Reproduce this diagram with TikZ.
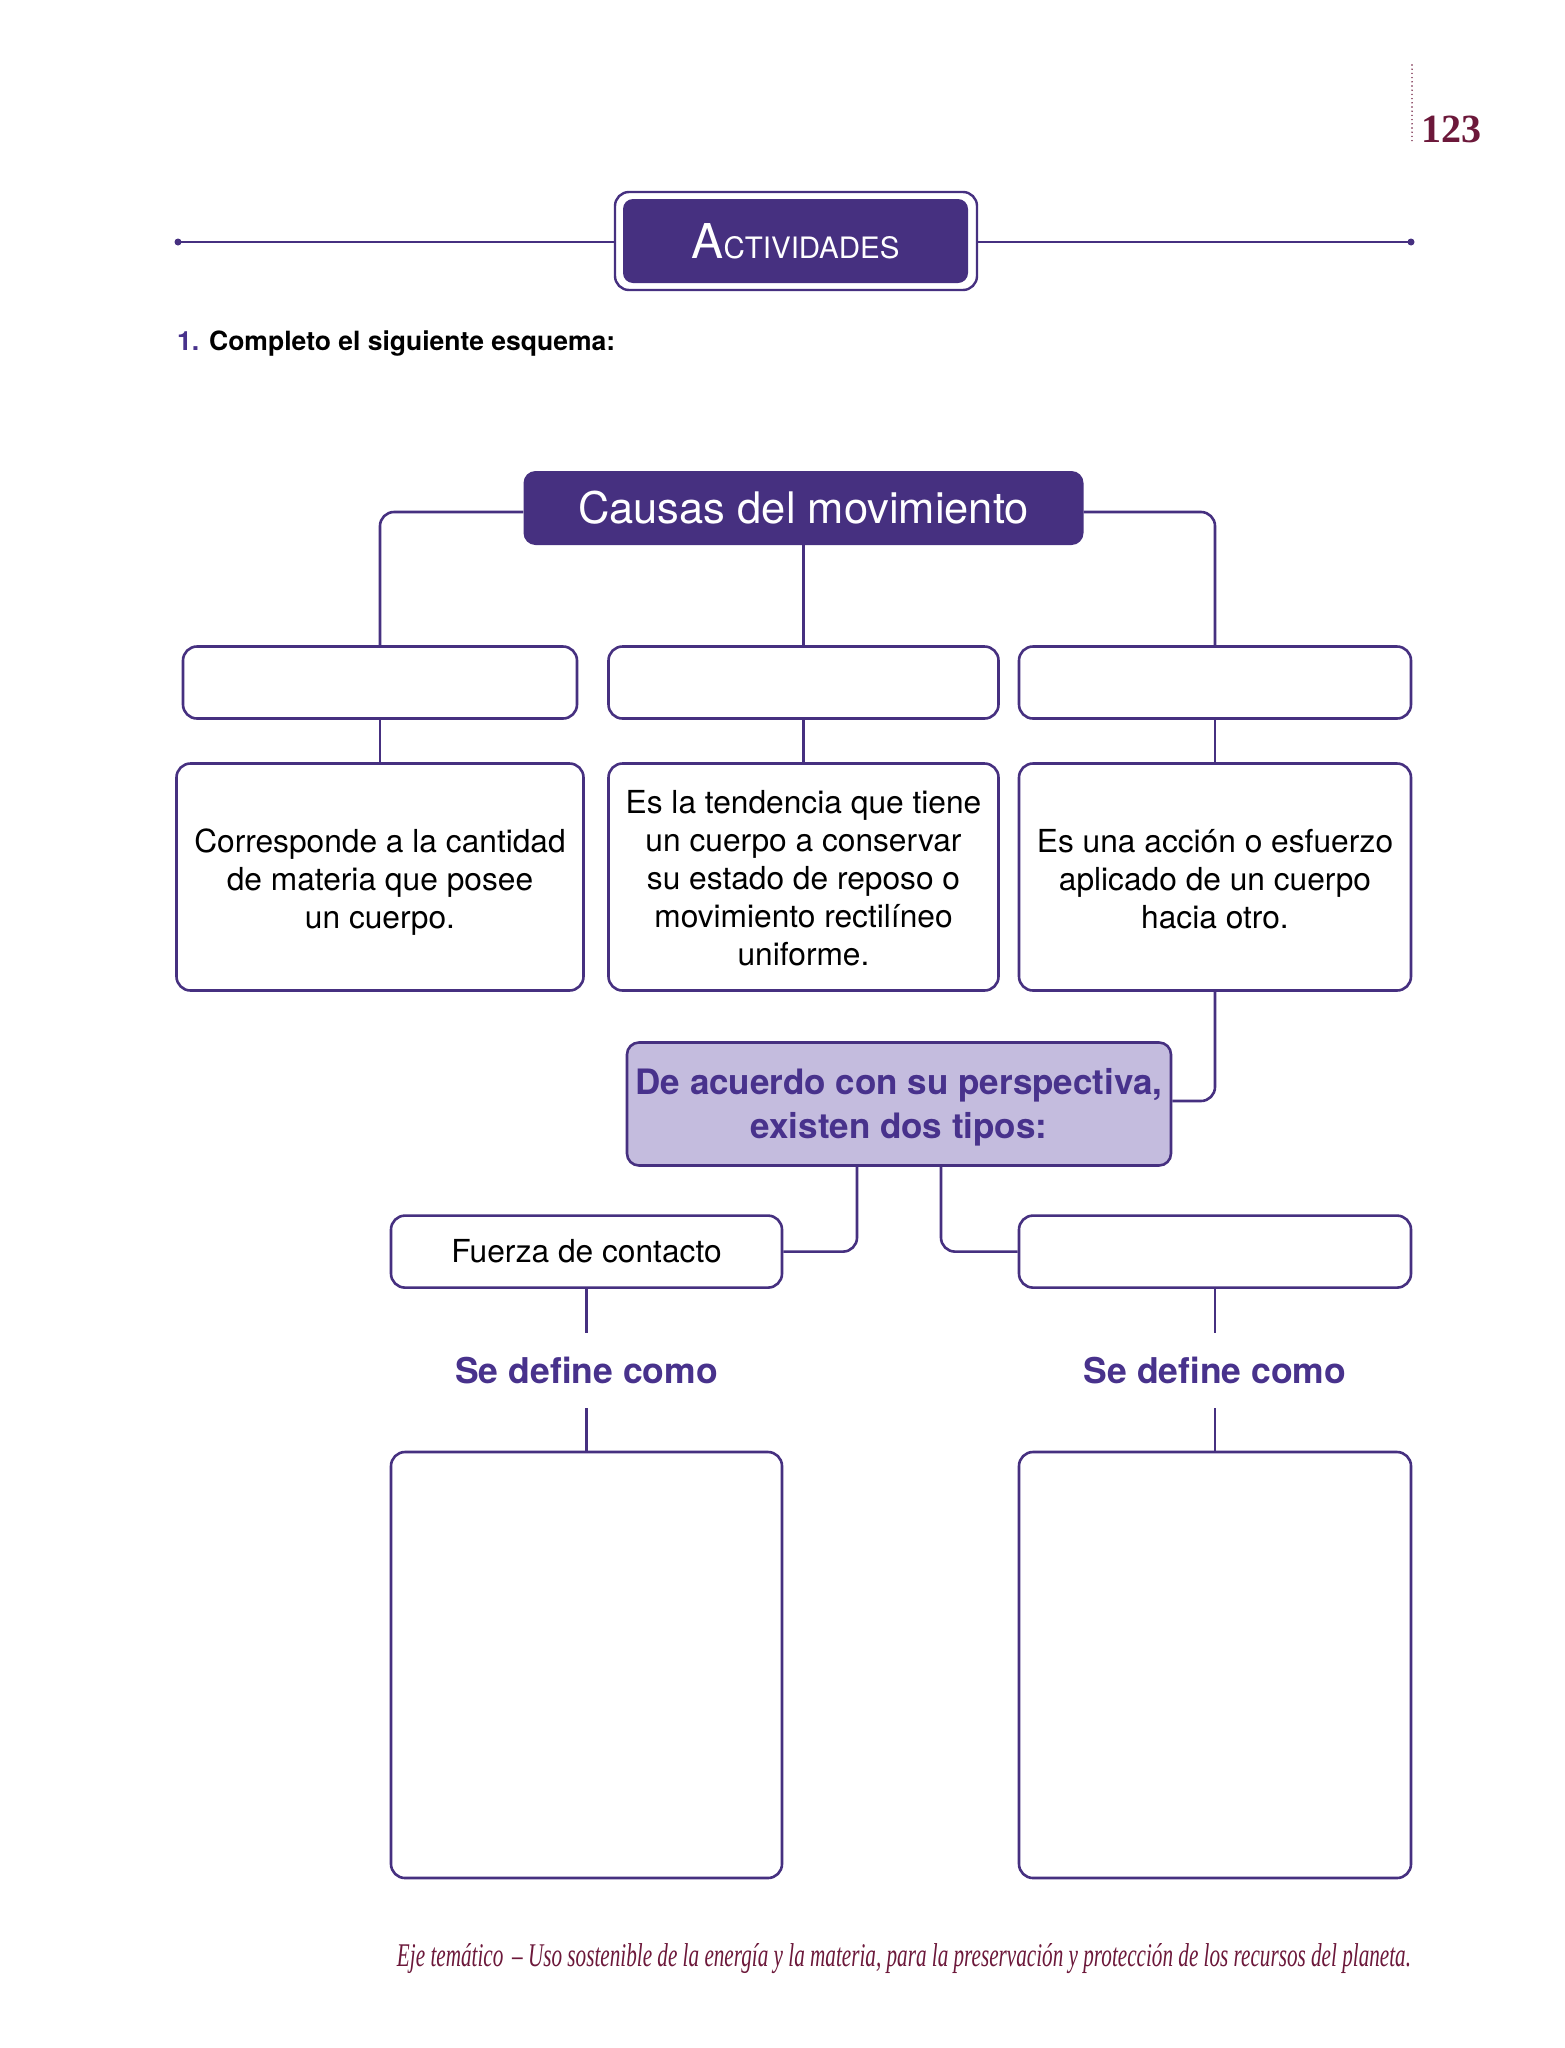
\documentclass[tikz,border=0pt]{standalone}
\usepackage{fontspec}
\usepackage{graphicx}
\setmainfont{TeX Gyre Heros}
\newfontfamily\numfont{Liberation Serif}
\usetikzlibrary{calc}
\definecolor{ipurple}{RGB}{70,48,128}
\definecolor{lpurple}{RGB}{196,188,222}
\definecolor{tpurple}{RGB}{72,50,140}
\definecolor{maroon}{RGB}{108,24,58}
\begin{document}
\begin{tikzpicture}[x=1pt,y=-1pt,
  box/.style={draw=ipurple, line width=2.6pt, rounded corners=14pt, fill=white, inner sep=0pt,
    align=center, text=black, font=\fontsize{31.7}{38}\selectfont},
  conn/.style={draw=ipurple, line width=2.6pt, rounded corners=14pt},
  sedef/.style={inner sep=0pt, minimum height=75pt, text=tpurple, font=\bfseries\fontsize{35.5}{40}\selectfont}
]
\useasboundingbox[fill=white] (0,0) rectangle (1564,2048);

% page number
\coordinate (pt) at (1412,65);
\coordinate (pb) at (1412,142);
\draw[maroon, line width=1.6pt, line cap=round, dash pattern=on 0pt off 4.2pt] (pt) -- (pb);
\node[anchor=base west, inner sep=0pt, text=maroon, font=\numfont\bfseries\fontsize{40}{40}\selectfont] (pnum) at (1421,142) {123};

% header line
\coordinate (hl) at (178,242);
\coordinate (hr) at (1411,242);
\draw[ipurple, line width=2pt] (hl) -- (hr);
\fill[ipurple] (hl) circle (3.5pt) (hr) circle (3.5pt);
\node[draw=ipurple, line width=2.4pt, fill=white, rounded corners=14pt, minimum width=362pt, minimum height=98pt, inner sep=0pt] (actout) at (796,241) {};
\node[fill=ipurple, rounded corners=10pt, minimum width=345pt, minimum height=84pt, inner sep=0pt, text=white] (act) at (795.5,241)
  {{\fontsize{48}{48}\selectfont A}{\fontsize{29.5}{30}\selectfont CTIVIDADES}};

% instruction
\node[anchor=base west, inner sep=0pt, font=\bfseries\fontsize{26.5}{30}\selectfont] (instr) at (177,350.5)
  {\textcolor{tpurple}{1.} Completo el siguiente esquema:};

% title
\node[fill=ipurple, rounded corners=12pt, minimum width=560pt, minimum height=74pt, inner sep=0pt, text=white,
  font=\fontsize{43.5}{46}\selectfont] (causas) at (803.5,508) {Causas del movimiento};

% row 1
\node[box, minimum width=394pt, minimum height=72pt] (r1a) at (380,682.5) {};
\node[box, minimum width=390pt, minimum height=72pt] (r1b) at (803.5,682.5) {};
\node[box, minimum width=392pt, minimum height=72pt] (r1c) at (1215,682.5) {};

% row 2
\node[box, minimum width=407pt, minimum height=227pt] (r2a) at (380,877)
  {\rule{0pt}{33pt}Corresponde a la cantidad\\de materia que posee\\un cuerpo.};
\node[box, minimum width=390pt, minimum height=227pt] (r2b) at (803.5,877)
  {\rule{0pt}{26pt}Es la tendencia que tiene\\un cuerpo a conservar\\su estado de reposo o\\movimiento rectilíneo\\uniforme.};
\node[box, minimum width=392pt, minimum height=227pt] (r2c) at (1215,877)
  {\rule{0pt}{27pt}Es una acción o esfuerzo\\aplicado de un cuerpo\\hacia otro.};

% perspective box
\node[box, fill=lpurple, rounded corners=12pt, minimum width=544pt, minimum height=123pt, text=tpurple,
  font=\bfseries\fontsize{35}{44}\selectfont] (acuerdo) at (899,1104)
  {\rule{0pt}{33.5pt}De acuerdo con su perspectiva,\\existen dos tipos:};

% types
\node[box, minimum width=391pt, minimum height=72pt] (fuerza) at (586.5,1251.6) {Fuerza de contacto};
\node[box, minimum width=392pt, minimum height=72pt] (tipo2) at (1215,1251.6) {};

\node[sedef] (sd1) at (586.5,1370.5) {Se define como};
\node[sedef] (sd2) at (1215,1370.5) {Se define como};

\node[box, minimum width=391pt, minimum height=426pt] (big1) at (586.5,1665) {};
\node[box, minimum width=392pt, minimum height=426pt] (big2) at (1215,1665) {};

% connectors
\draw[conn] ($(causas.west)+(0,4)$) -| (r1a.north);
\draw[conn] (causas.south) -- (r1b.north);
\draw[conn] ($(causas.east)+(0,4)$) -| (r1c.north);
\draw[conn] (r1a.south) -- (r2a.north);
\draw[conn] (r1b.south) -- (r2b.north);
\draw[conn] (r1c.south) -- (r2c.north);
\draw[conn] (r2c.south) |- ($(acuerdo.east)+(0,-3)$);
\draw[conn] ($(acuerdo.south)+(-42,0)$) |- (fuerza.east);
\draw[conn] ($(acuerdo.south)+(42,0)$) |- (tipo2.west);
\draw[conn] (fuerza.south) -- (sd1.north);
\draw[conn] (tipo2.south) -- (sd2.north);
\draw[conn] (sd1.south) -- (big1.north);
\draw[conn] (sd2.south) -- (big2.north);

% footer
\node[inner sep=0pt, text=maroon] (foot) at (904,1959)
  {\resizebox{1014pt}{23pt}{\numfont\itshape\fontsize{24}{26}\selectfont Eje temático \,– Uso sostenible de la energía y la materia, para la preservación y protección de los recursos del planeta.}};
\end{tikzpicture}
\end{document}
